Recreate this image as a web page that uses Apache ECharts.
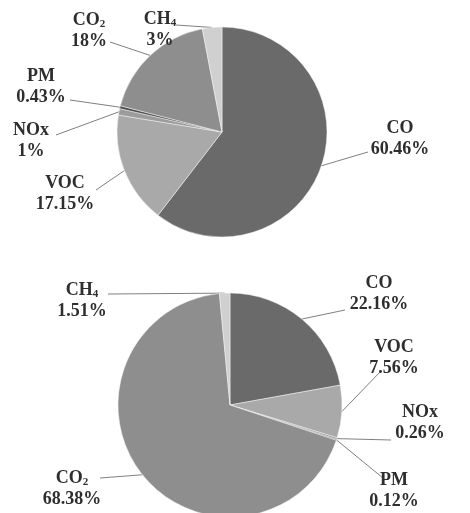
<!DOCTYPE html>
<html><head><meta charset="utf-8">
<script src="https://cdn.jsdelivr.net/npm/echarts@6/dist/echarts.min.js"></script>
<style>html,body{margin:0;padding:0;background:#fff}#c{width:470px;height:513px}</style>
</head><body><div id="c"></div>
<script>
const categories = ['CO', 'VOC', 'NOx', 'PM', 'CO2', 'CH4'];
const labelNames = ['CO', 'VOC', 'NOx', 'PM', 'CO{s|2}', 'CH{s|4}'];
const topValues = [60.46, 17.15, 1, 0.43, 18, 3];
const topLabels = ['60.46%', '17.15%', '1%', '0.43%', '18%', '3%'];
const bottomValues = [22.16, 7.56, 0.26, 0.12, 68.38, 1.51];
const bottomLabels = ['22.16%', '7.56%', '0.26%', '0.12%', '68.38%', '1.51%'];
const colors = ['#6a6a6a', '#a9a9a9', '#9c9c9c', '#4a4a4a', '#8e8e8e', '#d0d0d0'];

// label placement (layout only)
const labelPos = [
  [[400,139],[65,194],[31,141],[41,87],[89,31],[160,30]],
  [[379,294],[394,358],[420,423],[394,491],[72,489],[82,301]]
];
const lineEnd = [
  [[368,152],[96,190],[56,135],[70,100],[110,42],[176,25]],
  [[345,310],[380,372],[391,440],[383,478],[100,478],[108,294]]
];

function makeData(vals, pcts) {
  return categories.map((c, i) => ({
    name: c, value: vals[i], pct: pcts[i], itemStyle: { color: colors[i] }
  }));
}
const topData = makeData(topValues, topLabels);
const bottomData = makeData(bottomValues, bottomLabels);

const labelStyle = {
  show: true,
  position: 'outside',
  fontFamily: 'Liberation Serif',
  fontWeight: 'bold',
  fontSize: 18,
  color: '#2e2e2e',
  lineHeight: 21,
  align: 'center',
  formatter: p => labelNames[p.dataIndex] + '\n' + p.data.pct,
  rich: {
    s: { fontFamily: 'Liberation Serif', fontWeight: 'bold', fontSize: 11, color: '#2e2e2e', padding: [8, 0, 0, 0], lineHeight: 21 }
  }
};

function layoutFor(si) {
  return function (params) {
    const i = params.dataIndex;
    const pts = params.labelLinePoints;
    const p0 = pts ? pts[0] : lineEnd[si][i];
    const e = lineEnd[si][i];
    return {
      x: labelPos[si][i][0],
      y: labelPos[si][i][1],
      align: 'center',
      verticalAlign: 'middle',
      labelLinePoints: [p0, e, e]
    };
  };
}

const chart = echarts.init(document.getElementById('c'));
const common = {
  type: 'pie',
  startAngle: 90,
  clockwise: true,
  avoidLabelOverlap: false,
  animation: false,
  label: labelStyle,
  labelLine: { show: true, length: 10, length2: 10, lineStyle: { color: '#808080', width: 1 } },
  itemStyle: { borderColor: '#f4f4f4', borderWidth: 0.5 },
  emphasis: { disabled: true }
};
chart.setOption({
  backgroundColor: '#ffffff',
  series: [
    Object.assign({}, common, { center: [222, 132], radius: 105, data: topData, labelLayout: layoutFor(0) }),
    Object.assign({}, common, { center: [230, 405], radius: 112, data: bottomData, labelLayout: layoutFor(1) })
  ]
});
</script></body></html>
